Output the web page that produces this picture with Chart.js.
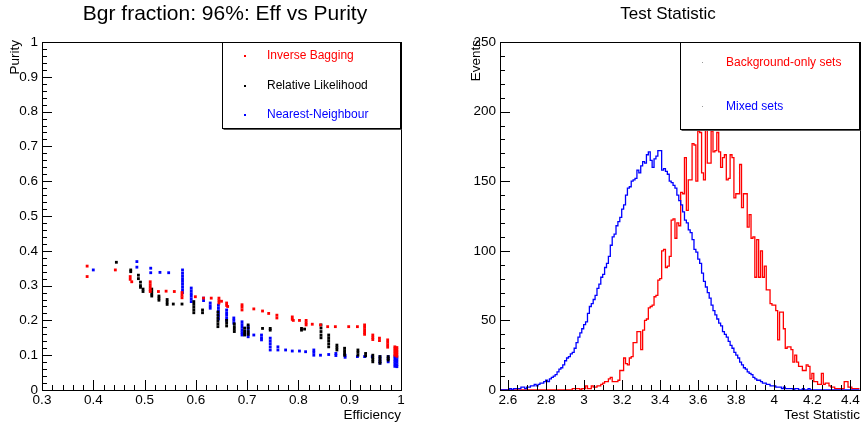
<!DOCTYPE html>
<html>
<head>
<meta charset="utf-8">
<script src="https://cdn.jsdelivr.net/npm/chart.js@4.4.0/dist/chart.umd.min.js"></script>
<style>
  html, body { margin: 0; padding: 0; background: #fff; }
  #wrap { position: relative; width: 864px; height: 426px; }
  canvas { position: absolute; top: 0; }
</style>
</head>
<body>
<div id="wrap">
  <canvas id="effChart" width="432" height="426" style="left:0"></canvas>
  <canvas id="statChart" width="432" height="426" style="left:432px"></canvas>
</div>
<script>
// ---- left pad: efficiency vs purity, [efficiency, purity]
const inverseBagging = [
  [0.388,0.356],[0.388,0.326],[0.443,0.345],[0.472,0.326],[0.472,0.318],[0.475,0.311],
  [0.511,0.311],[0.511,0.303],[0.511,0.295],[0.511,0.288],[0.511,0.283],[0.527,0.283],
  [0.542,0.284],[0.558,0.283],[0.573,0.280],[0.573,0.272],[0.573,0.265],[0.599,0.268],
  [0.615,0.264],[0.630,0.264],[0.645,0.264],[0.645,0.257],[0.645,0.250],[0.650,0.255],
  [0.660,0.250],[0.660,0.243],[0.662,0.240],[0.690,0.245],[0.690,0.238],[0.690,0.230],
  [0.713,0.233],[0.730,0.227],[0.742,0.220],[0.758,0.215],[0.758,0.207],[0.788,0.210],
  [0.788,0.203],[0.790,0.200],[0.802,0.200],[0.815,0.200],[0.815,0.193],[0.815,0.187],
  [0.827,0.189],[0.843,0.187],[0.857,0.182],[0.872,0.182],[0.898,0.182],[0.915,0.182],
  [0.929,0.187],[0.929,0.180],[0.929,0.173],[0.929,0.166],[0.929,0.160],[0.945,0.158],
  [0.945,0.151],[0.945,0.145],[0.958,0.149],[0.958,0.142],[0.974,0.144],[0.974,0.137],
  [0.974,0.130],[0.974,0.123],[0.988,0.124],[0.988,0.118],[0.988,0.112],[0.988,0.106],
  [0.988,0.100],[0.992,0.122],[0.992,0.115],[0.992,0.109],[0.992,0.103],[0.992,0.097]
];
const relativeLikelihood = [
  [0.445,0.367],[0.473,0.345],[0.473,0.340],[0.488,0.330],[0.488,0.320],[0.492,0.310],
  [0.492,0.300],[0.492,0.295],[0.497,0.290],[0.497,0.283],[0.514,0.290],[0.514,0.283],
  [0.514,0.276],[0.514,0.270],[0.528,0.270],[0.528,0.264],[0.528,0.258],[0.544,0.260],
  [0.544,0.253],[0.544,0.246],[0.556,0.247],[0.573,0.247],[0.596,0.254],[0.596,0.246],
  [0.596,0.238],[0.596,0.230],[0.596,0.222],[0.613,0.230],[0.613,0.222],[0.643,0.224],
  [0.643,0.215],[0.643,0.206],[0.643,0.198],[0.643,0.190],[0.643,0.182],[0.660,0.200],
  [0.660,0.192],[0.660,0.184],[0.675,0.190],[0.675,0.182],[0.675,0.175],[0.675,0.168],
  [0.695,0.178],[0.695,0.170],[0.695,0.163],[0.695,0.158],[0.702,0.187],[0.702,0.178],
  [0.702,0.168],[0.702,0.160],[0.730,0.177],[0.745,0.177],[0.745,0.172],[0.806,0.177],
  [0.806,0.172],[0.812,0.175],[0.844,0.187],[0.844,0.178],[0.844,0.168],[0.844,0.158],
  [0.844,0.150],[0.859,0.158],[0.859,0.150],[0.859,0.142],[0.859,0.133],[0.859,0.124],
  [0.875,0.129],[0.875,0.122],[0.875,0.115],[0.890,0.120],[0.890,0.113],[0.890,0.106],
  [0.890,0.100],[0.916,0.115],[0.916,0.108],[0.916,0.100],[0.931,0.105],[0.931,0.098],
  [0.945,0.100],[0.945,0.093],[0.945,0.087],[0.945,0.081],[0.959,0.096],[0.959,0.089],
  [0.959,0.082],[0.959,0.077],[0.975,0.096],[0.975,0.090],[0.975,0.086]
];
const nearestNeighbour = [
  [0.400,0.345],[0.485,0.369],[0.485,0.353],[0.512,0.350],[0.512,0.337],[0.530,0.338],
  [0.547,0.337],[0.574,0.345],[0.574,0.336],[0.574,0.328],[0.574,0.320],[0.574,0.312],
  [0.574,0.304],[0.574,0.296],[0.574,0.288],[0.574,0.280],[0.591,0.293],[0.591,0.285],
  [0.591,0.277],[0.591,0.270],[0.591,0.262],[0.591,0.254],[0.615,0.264],[0.615,0.257],
  [0.628,0.250],[0.628,0.242],[0.628,0.235],[0.644,0.244],[0.644,0.236],[0.644,0.228],
  [0.644,0.220],[0.644,0.212],[0.644,0.204],[0.660,0.230],[0.660,0.222],[0.660,0.215],
  [0.660,0.207],[0.660,0.200],[0.674,0.207],[0.674,0.200],[0.674,0.192],[0.690,0.196],
  [0.690,0.188],[0.690,0.180],[0.690,0.172],[0.690,0.165],[0.690,0.158],[0.702,0.182],
  [0.702,0.175],[0.702,0.167],[0.702,0.160],[0.702,0.153],[0.713,0.158],[0.728,0.158],
  [0.728,0.150],[0.728,0.144],[0.745,0.149],[0.745,0.141],[0.745,0.133],[0.745,0.124],
  [0.745,0.115],[0.760,0.124],[0.760,0.115],[0.775,0.115],[0.788,0.112],[0.802,0.112],
  [0.814,0.110],[0.830,0.115],[0.830,0.108],[0.830,0.100],[0.843,0.100],[0.859,0.102],
  [0.873,0.105],[0.873,0.099],[0.891,0.100],[0.891,0.094],[0.915,0.096],[0.929,0.096],
  [0.944,0.096],[0.959,0.096],[0.959,0.089],[0.959,0.082],[0.959,0.077],[0.975,0.096],
  [0.975,0.089],[0.975,0.081],[0.988,0.096],[0.988,0.089],[0.988,0.082],[0.988,0.075],
  [0.988,0.068],[0.992,0.094],[0.992,0.087],[0.992,0.080],[0.992,0.073],[0.992,0.067]
];
const effTicks = [0.3, 0.4, 0.5, 0.6, 0.7, 0.8, 0.9, 1];
const effLabels = ['0.3', '0.4', '0.5', '0.6', '0.7', '0.8', '0.9', '1'];
const purityTicks = [0, 0.1, 0.2, 0.3, 0.4, 0.5, 0.6, 0.7, 0.8, 0.9, 1];
const purityLabels = ['0', '0.1', '0.2', '0.3', '0.4', '0.5', '0.6', '0.7', '0.8', '0.9', '1'];

// ---- right pad: test statistic histograms (bin width 0.01 starting at 2.558)
const histLo = 2.558;
const binW = 0.01;
const bgOnly = [
  0,0,0,0,0,0,0,0,0,0, 0,0,0,0,0,0,0,0,0,0, 0,0,0,0,0,0,0,0,0,0,
  0,0,0,0,0,0,0,0,1,1,
  1,1,0,1,1,3,1,1,3,2,
  2,3,3,4,5,6,6,8,9,6,
  6,6,7,14,14,23,19,18,23,24,
  34,34,42,42,29,43,50,51,59,60,
  61,67,68,79,80,100,101,88,89,96,
  122,123,109,120,118,142,141,167,129,151,
  151,177,176,150,186,185,156,151,187,163,
  163,186,171,172,185,171,160,167,169,151,
  152,169,167,138,141,141,162,131,141,141,
  117,126,109,110,81,108,81,100,81,89,
  72,72,62,61,61,57,36,56,56,44,
  30,31,31,29,20,25,20,17,17,14,
  14,18,17,8,12,6,6,4,4,12,
  4,5,5,3,2,2,1,1,1,1,
  1,6,6,2,2,1,1,1,1
];
const mixed = [
  0,0,0,0,0,1,0,1,1,1,
  1,2,2,1,2,2,3,3,4,3,
  4,5,5,6,7,6,8,9,10,11,
  13,15,16,18,21,23,24,26,27,30,
  34,38,41,44,47,49,55,60,62,65,
  68,73,76,81,83,88,91,96,104,110,
  112,118,121,124,130,133,140,145,146,150,
  151,152,158,156,161,164,163,169,171,165,
  160,166,168,172,172,158,159,157,155,150,
  149,147,145,140,136,133,128,122,120,115,
  113,108,101,99,94,91,84,78,74,70,
  66,61,57,54,51,48,46,42,40,38,
  35,32,30,27,25,23,20,18,16,15,
  13,12,11,9,8,7,7,6,5,5,
  4,4,3,3,3,2,2,2,1,2,
  1,1,1,1,0,1,1,0,0,1,
  0,0,1,0,0,0,0,0,0,0,
  0,0,0,0,0,0,0,0,0,0,
  0,0,0,0,0,0,0,0,0
];
const statTicks = [2.6, 2.8, 3, 3.2, 3.4, 3.6, 3.8, 4, 4.2, 4.4];
const statLabels = ['2.6', '2.8', '3', '3.2', '3.4', '3.6', '3.8', '4', '4.2', '4.4'];
const eventTicks = [0, 50, 100, 150, 200, 250];
const eventLabels = ['0', '50', '100', '150', '200', '250'];

const FONT = '"Liberation Sans", Arial, Helvetica, sans-serif';

function toXY(pairs) {
  return pairs.map((p) => ({ x: p[0], y: p[1] }));
}

function histToSteps(counts) {
  const pts = counts.map((c, i) => ({ x: histLo + i * binW, y: c }));
  pts.push({ x: histLo + counts.length * binW, y: counts[counts.length - 1] });
  return pts;
}

// ROOT-like frame: inward ticks, labels, titles and legend box
function rootFrame(cfg) {
  return {
    id: 'rootFrame',
    afterDraw(chart) {
      const ctx = chart.ctx;
      const a = chart.chartArea;
      const xs = chart.scales.x;
      const ys = chart.scales.y;
      ctx.save();
      ctx.strokeStyle = '#000';
      ctx.lineWidth = 1;
      ctx.strokeRect(Math.round(a.left) + 0.5, Math.round(a.top) + 0.5,
        Math.round(a.right - a.left), Math.round(a.bottom - a.top));

      ctx.beginPath();
      const nx = Math.round((xs.max - xs.min) / cfg.xMinor) + 2;
      const x0 = Math.ceil(xs.min / cfg.xMinor - 1e-6) * cfg.xMinor;
      for (let i = 0; i < nx; i++) {
        const v = x0 + i * cfg.xMinor;
        if (v > xs.max + 1e-9) break;
        const px = Math.round(xs.getPixelForValue(v)) + 0.5;
        const major = cfg.xTicks.some((t) => Math.abs(t - v) < 1e-6);
        const len = major ? 10 : 5;
        ctx.moveTo(px, a.bottom);
        ctx.lineTo(px, a.bottom - len);
      }
      const ny = Math.round((ys.max - ys.min) / cfg.yMinor) + 2;
      for (let i = 0; i < ny; i++) {
        const v = ys.min + i * cfg.yMinor;
        if (v > ys.max + 1e-9) break;
        const py = Math.round(ys.getPixelForValue(v)) + 0.5;
        const major = cfg.yTicks.some((t) => Math.abs(t - v) < 1e-6);
        const len = major ? 10 : 5;
        ctx.moveTo(a.left, py);
        ctx.lineTo(a.left + len, py);
      }
      ctx.stroke();

      ctx.fillStyle = '#000';
      ctx.font = '13.5px ' + FONT;
      ctx.textAlign = 'center';
      ctx.textBaseline = 'top';
      cfg.xTicks.forEach((t, i) => {
        ctx.fillText(cfg.xLabels[i], xs.getPixelForValue(t), a.bottom + 4);
      });
      ctx.textAlign = 'right';
      ctx.textBaseline = 'middle';
      cfg.yTicks.forEach((t, i) => {
        ctx.fillText(cfg.yLabels[i], a.left - 4, ys.getPixelForValue(t));
      });

      // axis titles
      ctx.textAlign = 'right';
      ctx.textBaseline = 'alphabetic';
      ctx.fillText(cfg.xTitle, a.right, a.bottom + 29);
      ctx.save();
      ctx.translate(cfg.yTitleX, a.top - 2);
      ctx.rotate(-Math.PI / 2);
      ctx.textAlign = 'right';
      ctx.textBaseline = 'middle';
      ctx.fillText(cfg.yTitle, 0, 0);
      ctx.restore();

      // pad title
      ctx.font = cfg.titleSize + 'px ' + FONT;
      ctx.textAlign = 'center';
      ctx.textBaseline = 'middle';
      ctx.fillText(cfg.title, cfg.titleX, 14);

      // legend box
      const L = cfg.legend;
      ctx.fillStyle = '#fff';
      ctx.fillRect(L.x, L.y, L.w, L.h);
      ctx.strokeStyle = '#000';
      ctx.strokeRect(L.x + 0.5, L.y + 0.5, L.w, L.h);
      ctx.strokeStyle = '#555';
      ctx.beginPath();
      ctx.moveTo(L.x + 1.5, L.y + L.h + 1.5);
      ctx.lineTo(L.x + L.w + 1.5, L.y + L.h + 1.5);
      ctx.stroke();
      ctx.font = '12px ' + FONT;
      ctx.textAlign = 'left';
      ctx.textBaseline = 'middle';
      L.items.forEach((it) => {
        ctx.fillStyle = it.marker;
        ctx.fillRect(L.x + L.markX - 1, it.y - 1, it.msize, it.msize);
        ctx.fillStyle = it.color;
        ctx.fillText(it.text, L.x + L.textX, it.y);
      });
      ctx.restore();
    },
  };
}

const pointStyle = { pointStyle: 'rect', pointRadius: 2.0, pointBorderWidth: 0, showLine: false };

new Chart(document.getElementById('effChart'), {
  type: 'scatter',
  data: {
    datasets: [
      Object.assign({ label: 'Inverse Bagging', data: toXY(inverseBagging), backgroundColor: '#ff0000', borderColor: '#ff0000' }, pointStyle),
      Object.assign({ label: 'Relative Likelihood', data: toXY(relativeLikelihood), backgroundColor: '#000000', borderColor: '#000000' }, pointStyle),
      Object.assign({ label: 'Nearest-Neighbour', data: toXY(nearestNeighbour), backgroundColor: '#0000ff', borderColor: '#0000ff' }, pointStyle),
    ],
  },
  options: {
    responsive: false,
    animation: false,
    layout: { padding: { left: 42, right: 31, top: 42, bottom: 36 } },
    plugins: { legend: { display: false }, title: { display: false }, tooltip: { enabled: false } },
    scales: {
      x: { type: 'linear', min: 0.3, max: 1, display: false },
      y: { type: 'linear', min: 0, max: 1, display: false },
    },
  },
  plugins: [rootFrame({
    xTicks: effTicks, xLabels: effLabels, xMinor: 0.02,
    yTicks: purityTicks, yLabels: purityLabels, yMinor: 0.02,
    xTitle: 'Efficiency', yTitle: 'Purity', yTitleX: 15,
    title: 'Bgr fraction: 96%: Eff vs Purity', titleX: 225, titleSize: 21,
    legend: {
      x: 222, y: 42, w: 178, h: 86, markX: 23, textX: 45,
      items: [
        { text: 'Inverse Bagging', color: '#ff0000', marker: '#ff0000', y: 56, msize: 2 },
        { text: 'Relative Likelihood', color: '#000000', marker: '#000000', y: 86, msize: 2 },
        { text: 'Nearest-Neighbour', color: '#0000ff', marker: '#0000ff', y: 115, msize: 2 },
      ],
    },
  })],
});

new Chart(document.getElementById('statChart'), {
  type: 'line',
  data: {
    datasets: [
      { label: 'Mixed sets', data: histToSteps(mixed), borderColor: '#0000ff', borderWidth: 1.3, stepped: true, pointRadius: 0, fill: false },
      { label: 'Background-only sets', data: histToSteps(bgOnly), borderColor: '#ff0000', borderWidth: 1.3, stepped: true, pointRadius: 0, fill: false },
    ],
  },
  options: {
    responsive: false,
    animation: false,
    layout: { padding: { left: 68, right: 4, top: 42, bottom: 36 } },
    plugins: { legend: { display: false }, title: { display: false }, tooltip: { enabled: false } },
    scales: {
      x: { type: 'linear', min: 2.558, max: 4.451, display: false },
      y: { type: 'linear', min: 0, max: 250, display: false },
    },
  },
  plugins: [rootFrame({
    xTicks: statTicks, xLabels: statLabels, xMinor: 0.05,
    yTicks: eventTicks, yLabels: eventLabels, yMinor: 10,
    xTitle: 'Test Statistic', yTitle: 'Events', yTitleX: 44,
    title: 'Test Statistic', titleX: 236, titleSize: 17,
    legend: {
      x: 248, y: 42, w: 179, h: 87, markX: 23, textX: 46,
      items: [
        { text: 'Background-only sets', color: '#ff0000', marker: '#999999', y: 63, msize: 1 },
        { text: 'Mixed sets', color: '#0000ff', marker: '#999999', y: 107, msize: 1 },
      ],
    },
  })],
});
</script>
</body>
</html>
